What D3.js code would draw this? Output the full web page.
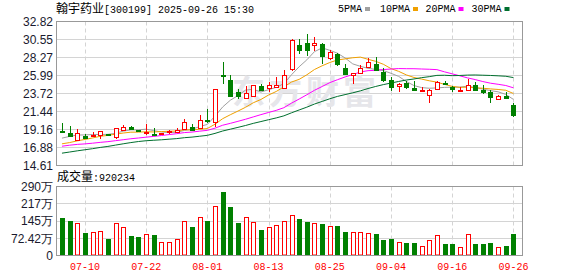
<!DOCTYPE html>
<html>
<head>
<meta charset="utf-8">
<script src="https://cdn.jsdelivr.net/npm/d3@7"></script>
<style>
  body { margin: 0; background: #fff; }
  svg { display: block; }
  .mono { font-family: 'Liberation Mono', 'DejaVu Sans Mono', monospace; }
  .cjk { font-family: 'Noto Sans CJK SC', sans-serif; }
  .axis text { font-family: 'Liberation Sans', Arial, sans-serif; font-size: 12px; fill: #1a1a2e; }
  .axis path, .axis line { display: none; }
  .xaxis text { font-family: 'Liberation Mono', monospace; font-size: 10px; fill: #ff0000; }
</style>
</head>
<body>
<div id="vis"></div>
<script>
// trading days shown on the chart
var dates = [
  '07-07','07-08','07-09','07-10','07-11','07-14','07-15','07-16','07-17','07-18',
  '07-21','07-22','07-23','07-24','07-25','07-28','07-29','07-30','07-31','08-01',
  '08-04','08-05','08-06','08-07','08-08','08-11','08-12','08-13','08-14','08-15',
  '08-18','08-19','08-20','08-21','08-22','08-25','08-26','08-27','08-28','08-29',
  '09-01','09-02','09-03','09-04','09-05','09-08','09-09','09-10','09-11','09-12',
  '09-15','09-16','09-17','09-18','09-19','09-22','09-23','09-24','09-25','09-26'
];

var opens = [
  18.93,18.78,17.86,18.40,18.36,18.40,18.61,18.19,19.12,19.54,
  19.04,18.74,18.57,18.62,18.80,18.91,19.12,19.54,19.33,20.40,
  20.20,26.00,25.45,23.85,23.15,23.35,24.70,24.45,24.65,24.50,
  26.80,29.90,30.05,29.75,30.00,28.15,28.65,27.00,26.10,26.30,
  27.05,27.45,26.45,25.45,24.65,25.00,24.35,24.00,23.60,24.30,
  25.00,24.50,24.10,24.20,24.85,24.20,23.90,23.05,23.45,22.30
];
var highs = [
  19.95,19.63,19.20,18.61,18.87,18.99,18.65,19.40,19.75,19.62,
  19.15,19.88,19.37,18.74,19.04,19.37,20.47,19.88,21.02,21.78,
  24.33,27.67,26.00,24.30,24.70,24.85,24.95,25.15,25.85,26.70,
  30.55,30.65,31.30,30.85,30.05,29.25,28.80,27.45,26.35,27.30,
  28.20,28.30,27.00,25.80,25.00,25.30,25.25,24.60,24.25,25.35,
  25.30,24.70,24.50,25.50,25.15,24.85,24.10,23.50,23.90,22.50
];
var lows = [
  18.82,18.38,17.77,18.07,18.19,17.90,18.35,17.98,19.04,19.20,
  18.87,18.53,18.36,18.57,18.62,18.78,19.04,19.12,19.25,20.00,
  19.50,24.95,23.40,23.05,23.00,23.25,24.00,23.90,24.55,24.30,
  26.60,28.75,28.40,29.05,27.50,27.90,27.25,26.10,24.95,26.20,
  26.90,26.60,25.15,24.00,23.85,24.30,24.00,23.98,22.50,24.20,
  24.80,23.90,24.00,24.00,24.00,23.70,22.50,23.00,23.10,20.80
];
var closes = [
  18.86,18.40,18.70,18.19,18.49,18.91,18.45,19.37,19.54,19.33,
  18.91,18.87,18.45,18.70,18.91,19.12,20.05,19.20,20.39,20.27,
  24.32,25.87,23.45,23.35,23.75,24.80,24.20,24.85,24.85,26.10,
  30.45,29.25,29.20,30.05,28.45,28.95,27.40,26.20,26.30,26.90,
  27.70,26.70,25.45,24.60,24.95,24.50,24.10,24.15,24.20,25.15,
  24.85,24.20,24.20,24.85,24.20,23.90,23.25,23.45,23.20,21.05
];
// closes of the 29 sessions before 07-07, needed for the moving averages
var prevCloses = [
  14.05,14.20,14.12,14.35,14.28,14.50,14.42,14.60,14.71,14.85,
  15.90,16.60,16.95,16.70,16.85,16.60,16.95,17.10,16.90,16.95,
  16.80,16.55,16.40,16.60,16.80,17.30,17.85,18.10,18.24
];
// volume in 万
var volumes = [
  158.3,147.1,137.3,92.5,99.5,103.7,71.4,137.3,120.5,79.9,
  75.7,91.1,84.1,58.8,58.8,70.0,145.7,117.7,162.5,147.1,
  208.7,267.6,205.9,134.5,162.5,141.5,105.1,120.5,126.1,145.7,
  170.9,155.5,138.7,137.3,130.3,124.7,121.9,96.7,96.7,99.5,
  95.3,88.3,67.2,71.4,57.4,54.6,54.6,40.6,65.8,86.9,
  50.4,50.4,37.8,91.1,50.4,50.4,54.6,36.4,42.0,92.0234
];

var dateTicks = ['07-10','07-22','08-01','08-13','08-25','09-04','09-16','09-26'];
var priceTicks = [14.61,16.88,19.16,21.44,23.72,25.99,28.27,30.55,32.82];
var volTicks = [0,72.42,145,217,290];
var volTickLabels = ['0','72.42万','145万','217万','290万'];

var maPeriods = [5,10,20,30];
var maNames = ['5PMA','10PMA','20PMA','30PMA'];
var maColors = ['#a0a0a0','#f0a000','#ff00ff','#006f2e'];

var width = 578;
var height = 276;

// plot boxes
var left = 56, right = 522;
var priceTop = 21.5, priceBottom = 165.5;
var volTop = 186.5, volBottom = 255.5;

var upColor = '#ff0000';
var downColor = '#008000';
var gridColor = '#d4d4d4';
var borderColor = '#999';

var svg = d3.select('#vis').append('svg')
  .attr('width', width)
  .attr('height', height);

svg.append('rect').attr('width', width).attr('height', height).attr('fill', '#fff');

var x = d3.scaleBand()
  .domain(dates)
  .range([57, 518.4])
  .padding(0.3);
var cx = function (d) { return x(d) + x.bandwidth() / 2; };
var px = function (d) { return Math.round(cx(d)) + 0.5; };

var y = d3.scaleLinear()
  .domain([14.61, 32.82])
  .range([priceBottom, priceTop]);

var yVol = d3.scaleLinear()
  .domain([0, 290])
  .range([volBottom, volTop]);

var crisp = function (v) { return Math.round(v - 0.5) + 0.5; };

// horizontal grid lines
svg.append('g').selectAll('line').data(priceTicks.slice(1, -1))
  .enter().append('line')
  .attr('x1', left).attr('x2', right)
  .attr('y1', function (d) { return crisp(y(d)); })
  .attr('y2', function (d) { return crisp(y(d)); })
  .attr('stroke', gridColor);

svg.append('g').selectAll('line').data(volTicks.slice(1, -1))
  .enter().append('line')
  .attr('x1', left).attr('x2', right)
  .attr('y1', function (d) { return crisp(yVol(d)); })
  .attr('y2', function (d) { return crisp(yVol(d)); })
  .attr('stroke', gridColor);

// vertical dashed grid lines
[[priceTop, priceBottom], [volTop, volBottom]].forEach(function (r) {
  svg.append('g').selectAll('line').data(dateTicks)
    .enter().append('line')
    .attr('x1', px).attr('x2', px)
    .attr('y1', r[0]).attr('y2', r[1])
    .attr('stroke', gridColor)
    .attr('stroke-dasharray', '4,3');
});

// watermark
svg.append('text')
  .attr('class', 'cjk')
  .attr('x', 232)
  .attr('y', 104)
  .attr('font-size', 33)
  .attr('font-weight', 'bold')
  .attr('letter-spacing', 4)
  .attr('fill', '#e6e6ea')
  .text('东方财富');

// moving averages
var allCloses = prevCloses.concat(closes);
var offset = prevCloses.length;
var maLine = d3.line()
  .x(function (d) { return cx(d.date); })
  .y(function (d) { return y(d.value); });

maPeriods.forEach(function (n, k) {
  var pts = dates.map(function (d, i) {
    var j = i + offset;
    return { date: d, value: d3.mean(allCloses.slice(j - n + 1, j + 1)) };
  });
  svg.append('path')
    .datum(pts)
    .attr('d', maLine)
    .attr('fill', 'none')
    .attr('stroke', maColors[k])
    .attr('stroke-width', 1);
});

// candlesticks
var bars = dates.map(function (d, i) {
  return { date: d, o: opens[i], h: highs[i], l: lows[i], c: closes[i], v: volumes[i],
    up: closes[i] >= opens[i] };
});

var candles = svg.append('g').selectAll('g').data(bars).enter().append('g');

candles.append('line')
  .attr('x1', function (d) { return px(d.date); })
  .attr('x2', function (d) { return px(d.date); })
  .attr('y1', function (d) { return Math.round(y(d.h)); })
  .attr('y2', function (d) { return Math.round(y(d.l)); })
  .attr('stroke', function (d) { return d.up ? upColor : downColor; });

candles.append('rect')
  .attr('x', function (d) { return px(d.date) - 2; })
  .attr('width', 4)
  .attr('y', function (d) { return Math.round(y(Math.max(d.o, d.c))) + 0.5; })
  .attr('height', function (d) { return Math.max(1, Math.round(Math.abs(y(d.o) - y(d.c)))); })
  .attr('fill', function (d) { return d.up ? '#fff' : downColor; })
  .attr('stroke', function (d) { return d.up ? upColor : downColor; });

// volume bars
svg.append('g').selectAll('rect').data(bars).enter().append('rect')
  .attr('x', function (d) { return px(d.date) - 2; })
  .attr('width', 4)
  .attr('y', function (d) { return Math.round(yVol(d.v)) + 0.5; })
  .attr('height', function (d) { return volBottom - 0.5 - (Math.round(yVol(d.v)) + 0.5); })
  .attr('fill', function (d) { return d.up ? '#fff' : downColor; })
  .attr('stroke', function (d) { return d.up ? upColor : downColor; });

// panel borders
svg.append('rect')
  .attr('x', left + 0.5).attr('y', priceTop)
  .attr('width', right - left).attr('height', priceBottom - priceTop)
  .attr('fill', 'none').attr('stroke', borderColor);
svg.append('rect')
  .attr('x', left + 0.5).attr('y', volTop)
  .attr('width', right - left).attr('height', volBottom - volTop)
  .attr('fill', 'none').attr('stroke', borderColor);

// axes
svg.append('g')
  .attr('class', 'axis')
  .attr('transform', 'translate(' + (left + 3) + ',0)')
  .call(d3.axisLeft(y).tickValues(priceTicks).tickFormat(d3.format('.2f')).tickSize(0).tickPadding(6))
  .selectAll('text').attr('dy', '0.36em');

svg.append('g')
  .attr('class', 'axis')
  .attr('transform', 'translate(' + (left + 3) + ',0)')
  .call(d3.axisLeft(yVol).tickValues(volTicks)
    .tickFormat(function (d, i) { return volTickLabels[i]; }).tickSize(0).tickPadding(6));

svg.append('g')
  .attr('class', 'xaxis axis')
  .attr('transform', 'translate(0,' + volBottom + ')')
  .call(d3.axisBottom(x).tickValues(dateTicks).tickSize(0).tickPadding(7));

// title
var title = svg.append('text').attr('x', 56).attr('y', 13).attr('fill', '#000');
title.append('tspan').attr('class', 'cjk').attr('font-size', 12).text('翰宇药业');
title.append('tspan').attr('class', 'mono').attr('font-size', 10).text('[300199] 2025-09-26 15:30');

// legend
var legendX = [338, 380, 425.5, 471.5];
var legend = svg.append('g').selectAll('g').data(maNames).enter().append('g')
  .attr('transform', function (d, i) { return 'translate(' + legendX[i] + ',0)'; });
legend.append('text')
  .attr('class', 'mono')
  .attr('font-size', 10)
  .attr('y', 12)
  .attr('fill', '#000')
  .text(function (d) { return d; });
legend.append('rect')
  .attr('x', function (d) { return d.length * 6 + 3; })
  .attr('y', 7)
  .attr('width', 5)
  .attr('height', 4)
  .attr('fill', function (d, i) { return maColors[i]; });

// volume caption
var cap = svg.append('text').attr('x', 57).attr('y', 181).attr('fill', '#000');
cap.append('tspan').attr('class', 'cjk').attr('font-size', 12).text('成交量');
cap.append('tspan').attr('class', 'mono').attr('font-size', 10).text(':' + Math.round(volumes[volumes.length - 1] * 10000));
</script>
</body>
</html>
